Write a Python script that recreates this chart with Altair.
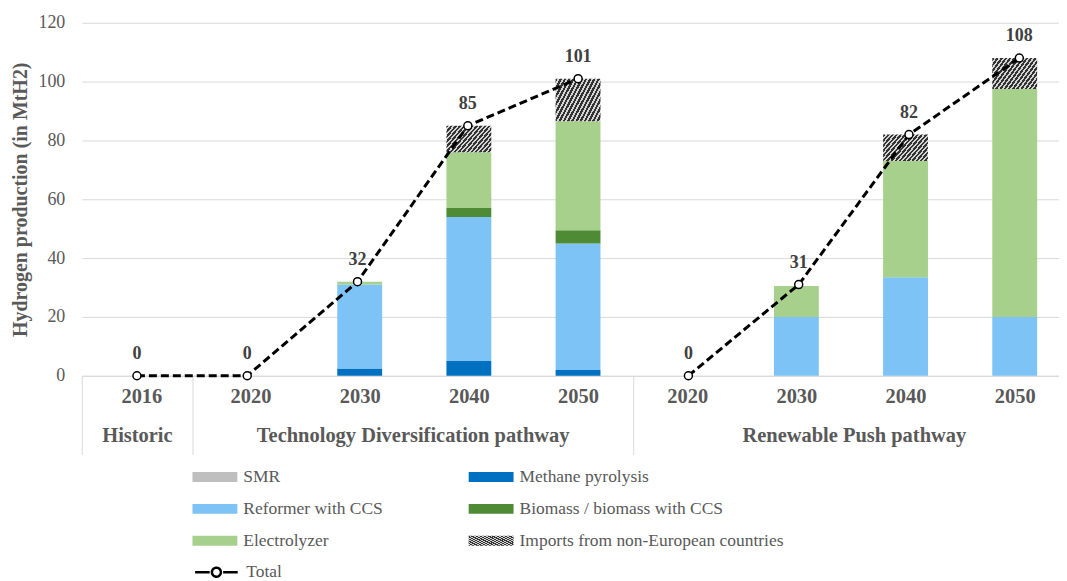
import altair as alt
import pandas as pd

# ---------------- data ----------------
years = ["2016", "2020", "2030", "2040", "2050", "2020", "2030", "2040", "2050"]
groups = ["Historic", "Technology Diversification pathway", "Renewable Push pathway"]
group_sizes = [1, 4, 4]
line_segment = [0, 0, 0, 0, 0, 1, 1, 1, 1]  # the total line is broken between the two pathways

sources = [
    "SMR",
    "Methane pyrolysis",
    "Reformer with CCS",
    "Biomass / biomass with CCS",
    "Electrolyzer",
    "Imports from non-European countries",
]
smr = [0, 0, 0, 0, 0, 0, 0, 0, 0]
methane = [0, 0, 2.5, 5, 2, 0, 0, 0, 0]
reformer = [0, 0, 28.5, 49, 43, 0, 20, 33.5, 20]
biomass = [0, 0, 0, 3, 4.5, 0, 0, 0, 0]
electrolyzer = [0, 0, 1, 19, 37, 0, 10.5, 39.5, 77.5]
imports = [0, 0, 0, 9, 14.5, 0, 0, 9, 10.5]
totals = [0, 0, 32, 85, 101, 0, 31, 82, 108]

# ---------------- tables ----------------
slots = list(range(len(years)))
series = [smr, methane, reformer, biomass, electrolyzer, imports]
rows = []
for si, (name, vals) in enumerate(zip(sources, series)):
    for s, v in zip(slots, vals):
        rows.append({"slot": s, "source": name, "order": si, "value": v})
bars_df = pd.DataFrame(rows)
tot_df = pd.DataFrame(
    {
        "slot": slots,
        "total": totals,
        "label": [str(t) for t in totals],
        "series": "Total",
        "seg": line_segment,
    }
)

starts = [sum(group_sizes[:i]) for i in range(len(group_sizes))]
group_centers = [st + (sz - 1) / 2 for st, sz in zip(starts, group_sizes)]
boundaries = [st - 0.5 for st in starts]

year_expr = "[" + ",".join("'%s'" % y for y in years) + "][datum.value]"
group_expr = ""
for c, g in zip(group_centers[:-1], groups[:-1]):
    group_expr += "datum.value == %s ? '%s' : " % (c, g)
group_expr += "'%s'" % groups[-1]

# ---------------- styles ----------------
FONT = "Liberation Serif"
GREY_TXT = "#595959"
GRID = "#d9d9d9"

n_stripes = 16
stops = []
for k in range(n_stripes):
    a = k / n_stripes
    b = (k + 0.55) / n_stripes
    c = (k + 1) / n_stripes
    stops += [(a, "#333333"), (b, "#333333"), (b, "#d4d4d4"), (c, "#d4d4d4")]
stops_js = ",".join("{offset: %.4f, color: '%s'}" % (o, col) for o, col in stops)
hatch_expr = "{gradient: 'linear', x1: 0, y1: 0, x2: 1.2, y2: 0.6, stops: [%s]}" % stops_js

color_of = {
    "SMR": "#bfbfbf",
    "Methane pyrolysis": "#0070c0",
    "Reformer with CCS": "#7dc3f5",
    "Biomass / biomass with CCS": "#4f8a35",
    "Electrolyzer": "#a8d08d",
    "Imports from non-European countries": {"expr": hatch_expr},
}
# legend is filled column by column: left column first, then right column
legend_order = [sources[i] for i in (0, 2, 4, 1, 3, 5)]
legend_colors = [color_of[s] for s in legend_order]

RECT = "M-1,-0.22H1V0.22H-1Z"
TOTAL_SYM = "M-0.95,0H-0.3M0.3,0H0.95M0.2,0A0.2,0.2,0,1,1,-0.2,0A0.2,0.2,0,1,1,0.2,0"

xdom = [-0.5, 8.36]


def xscale():
    return alt.Scale(domain=xdom, nice=False, zero=False)


yscale = alt.Scale(domain=[0, 120], nice=False)
yaxis = alt.Axis(
    values=[0, 20, 40, 60, 80, 100, 120], grid=True, gridColor=GRID, domain=False,
    ticks=False, labelFont=FONT, labelFontSize=18, labelColor=GREY_TXT,
    labelPadding=17, title="Hydrogen production (in MtH2)", titleFont=FONT,
    titleFontSize=20, titleFontWeight="bold", titleColor=GREY_TXT, titlePadding=7,
)

bars = alt.Chart(bars_df).mark_bar(size=45).encode(
    x=alt.X(
        "slot:Q",
        scale=xscale(),
        axis=alt.Axis(
            orient="bottom", values=slots, labelExpr=year_expr, ticks=False, grid=False,
            domainColor=GRID, domainWidth=1, labelFont=FONT, labelFontSize=20.5,
            labelFontWeight="bold", labelColor=GREY_TXT, labelPadding=11, title=None,
            labelFlush=False, labelOverlap=False,
        ),
    ),
    y=alt.Y("value:Q", stack="zero", scale=yscale, axis=yaxis),
    color=alt.Color(
        "source:N",
        scale=alt.Scale(domain=legend_order, range=legend_colors),
        legend=alt.Legend(
            orient="none", legendX=111, legendY=433, columns=2, title=None,
            symbolType=RECT, symbolSize=2025, symbolStrokeWidth=0, symbolOpacity=1,
            labelFont=FONT, labelFontSize=17.5, labelColor=GREY_TXT, labelOffset=6,
            rowPadding=1, columnPadding=86, labelLimit=0,
        ),
    ),
    order=alt.Order("order:Q", sort="ascending"),
)

line = alt.Chart(tot_df).mark_line(color="black", strokeWidth=3, strokeDash=[8, 4]).encode(
    x=alt.X(
        "slot:Q",
        scale=xscale(),
        axis=alt.Axis(
            orient="bottom", values=group_centers, labelExpr=group_expr, ticks=False,
            domain=False, grid=False, labelFont=FONT, labelFontSize=20.5,
            labelFontWeight="bold", labelColor=GREY_TXT, labelPadding=50, title=None,
            labelFlush=False, labelOverlap=False, labelLimit=0,
        ),
    ),
    y=alt.Y("total:Q", scale=yscale, axis=yaxis),
    detail="seg:N",
    opacity=alt.Opacity(
        "series:N",
        scale=alt.Scale(domain=["Total"], range=[1]),
        legend=alt.Legend(
            orient="none", legendX=111, legendY=527, title=None, symbolType=TOTAL_SYM,
            symbolSize=2025, symbolStrokeColor="black", symbolStrokeWidth=2.5,
            symbolFillColor="white", symbolDash=[1, 0], labelFont=FONT, labelFontSize=17.5,
            labelColor=GREY_TXT, labelOffset=6,
        ),
    ),
)

points = alt.Chart(tot_df).mark_point(
    filled=True, fill="white", stroke="black", strokeWidth=1.5, size=64, opacity=1, shape="circle"
).encode(
    x=alt.X(
        "slot:Q",
        scale=xscale(),
        axis=alt.Axis(
            orient="bottom", values=boundaries, labels=False, ticks=True, tickSize=79,
            tickColor=GRID, tickWidth=1, domain=False, grid=False, title=None,
        ),
    ),
    y=alt.Y("total:Q", scale=yscale, axis=yaxis),
)

text = alt.Chart(tot_df).mark_text(
    font=FONT, fontSize=18, fontWeight="bold", color="#404040", dy=-17, baseline="alphabetic"
).encode(
    x=alt.X("slot:Q", scale=xscale(), axis=None),
    y=alt.Y("total:Q", scale=yscale, axis=yaxis),
    text="label:N",
)

chart = (
    alt.layer(bars, line, points, text)
    .resolve_scale(x="independent")
    .properties(width=980, height=354, padding={"left": 3, "top": 5, "right": 0, "bottom": 0})
    .configure_view(stroke=None)
)

chart.save("out.html", embed_options={"renderer": "svg", "actions": False})
